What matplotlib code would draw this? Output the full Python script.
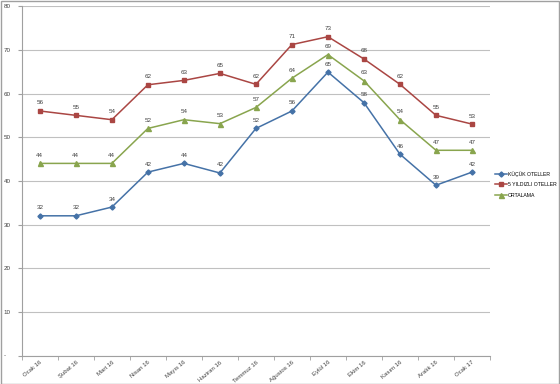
import numpy as np
import matplotlib.pyplot as plt

plt.rcParams['font.family'] = ['Liberation Sans', 'DejaVu Sans']

months = ['Ocak 16', 'Şubat 16', 'Mart 16', 'Nisan 16', 'Mayıs 16',
          'Haziran 16', 'Temmuz 16', 'Ağustos 16', 'Eylül 16', 'Ekim 16',
          'Kasım 16', 'Aralık 16', 'Ocak 17']
kucuk = [32, 32, 34, 42, 44, 41.8, 52, 56, 64.9, 57.9, 46.1, 39, 42]
bes_yildiz = [56, 55, 54, 62, 63, 64.6, 62.1, 71.2, 73, 67.9, 62.1, 55, 53]
ortalama = [44, 44, 44, 52, 54, 53.1, 56.8, 63.5, 68.9, 62.9, 54, 47, 47]
yticks = [0, 10, 20, 30, 40, 50, 60, 70, 80]
ytick_labels = ['-', '10', '20', '30', '40', '50', '60', '70', '80']

fig = plt.figure(figsize=(5.6, 3.84), dpi=100)
ax = fig.add_axes([0.039, 0.074, 0.836, 0.91])
x = np.arange(len(months))

series = [(kucuk, '#4572a7', 'D', 2.6, 'KÜÇÜK OTELLER'),
          (bes_yildiz, '#aa4643', 's', 3.2, '5 YILDIZLI OTELLER'),
          (ortalama, '#89a54e', '^', 3.6, 'ORTALAMA')]
for vals, col, mk, ms, lab in series:
    ax.plot(x, vals, color=col, marker=mk, markersize=ms, lw=1.1, label=lab)
    for xi, v in zip(x, vals):
        ax.annotate('%d' % round(v), (xi, v), xytext=(0, 4),
                    textcoords='offset points', ha='center', va='bottom',
                    fontsize=4.5, color='#404040')

ax.set_xlim(-0.5, len(months) - 0.5)
ax.set_ylim(0, 80)
ax.set_yticks(yticks)
ax.set_yticklabels(ytick_labels)
ax.set_xticks(x)
ax.set_xticklabels(months, rotation=40, ha='right', rotation_mode='anchor')
ax.set_xticks(np.arange(-0.5, len(months)), minor=True)
ax.tick_params(axis='x', which='major', length=0, labelsize=4.3,
               labelcolor='#404040', pad=3)
ax.tick_params(axis='x', which='minor', length=3, color='#a0a0a0')
ax.tick_params(axis='y', length=3, color='#a0a0a0', labelsize=4.5,
               labelcolor='#404040', pad=10)
for lab in ax.get_yticklabels():
    lab.set_horizontalalignment('left')
ax.yaxis.grid(True, color='#c0c0c0', lw=0.8)
ax.set_axisbelow(True)
for s in ['top', 'right']:
    ax.spines[s].set_visible(False)
for s in ['left', 'bottom']:
    ax.spines[s].set_color('#a0a0a0')
    ax.spines[s].set_linewidth(0.8)

ax.legend(loc='center left', bbox_to_anchor=(1.01, 0.49), frameon=False,
          fontsize=3.7, handlelength=2.4, handletextpad=0.2,
          labelspacing=1.1, borderaxespad=0, borderpad=0)
fig.patches.append(plt.Rectangle((0.001, 0.001), 0.997, 0.996,
                                 transform=fig.transFigure, fill=False,
                                 edgecolor='#a0a0a0', lw=1))
fig.savefig('out.png', dpi=100)
